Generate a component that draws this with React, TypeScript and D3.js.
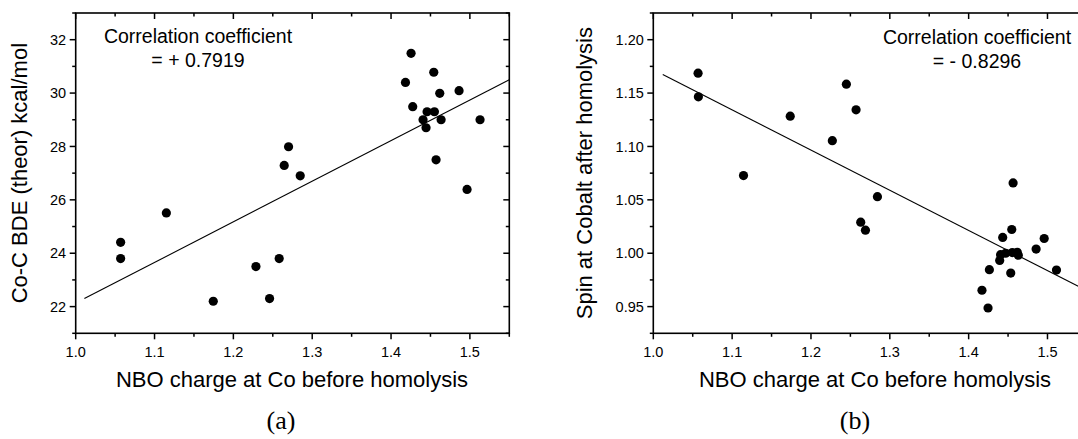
import React, { useEffect } from "react";
import * as d3 from "d3";

// ---------- data ----------
const nboA = [1.057, 1.057, 1.115, 1.1745, 1.2286, 1.2459, 1.2581, 1.2645, 1.27, 1.2848, 1.4183, 1.4254, 1.4275, 1.4406, 1.4444, 1.4457, 1.455, 1.4542, 1.4618, 1.4635, 1.4571, 1.4863, 1.4964, 1.5129];
const bdeA = [24.41, 23.8, 25.51, 22.2, 23.5, 22.3, 23.8, 27.29, 27.99, 26.9, 30.4, 31.49, 29.49, 29.0, 28.7, 29.3, 29.3, 30.78, 29.99, 29.0, 27.5, 30.09, 26.39, 29.0];

const nboB = [1.0568, 1.0572, 1.1144, 1.1737, 1.2271, 1.2449, 1.2572, 1.2631, 1.2691, 1.2843, 1.4169, 1.4246, 1.4263, 1.4394, 1.4432, 1.4405, 1.4469, 1.4534, 1.4547, 1.4564, 1.4554, 1.4617, 1.463, 1.4856, 1.4958, 1.5114];
const spinB = [1.1686, 1.1465, 1.0727, 1.1284, 1.1054, 1.1583, 1.1343, 1.0291, 1.0216, 1.053, 0.9653, 0.9487, 0.9846, 0.9933, 1.0148, 0.9986, 1.0, 0.9814, 1.0222, 1.0658, 1.0006, 1.0009, 0.9981, 1.0039, 1.0138, 0.9842];

const fitA = [{ x: 1.011, y: 22.3 }, { x: 1.55, y: 30.5 }];
const fitB = [{ x: 1.012, y: 1.1673 }, { x: 1.55, y: 0.9649 }];

const xDomain = [1.0, 1.55];
const yDomainA = [21, 33];
const yDomainB = [0.925, 1.225];

const xTicks = [1.0, 1.1, 1.2, 1.3, 1.4, 1.5];
const xMinor = [1.05, 1.15, 1.25, 1.35, 1.45, 1.55];
const yTicksA = [22, 24, 26, 28, 30, 32];
const yMinorA = [21, 23, 25, 27, 29, 31, 33];
const yTicksB = [0.95, 1.0, 1.05, 1.1, 1.15, 1.2];
const yMinorB = [0.925, 0.975, 1.025, 1.075, 1.125, 1.175, 1.225];

const xTitle = "NBO charge at Co before homolysis";
const yTitleA = "Co-C BDE (theor) kcal/mol";
const yTitleB = "Spin at Cobalt after homolysis";
const corrA = ["Correlation coefficient", "= + 0.7919"];
const corrB = ["Correlation coefficient", "= - 0.8296"];

const SANS = "'Liberation Sans', Arial, Helvetica, sans-serif";
const SERIF = "'Liberation Serif', 'Times New Roman', serif";

type PanelProps = {
  left: number; top: number; width: number; height: number;
  xs: number[]; ys: number[]; fit: { x: number; y: number }[];
  yDomain: number[]; yTicks: number[]; yMinor: number[]; yFmt: (v: number) => string;
  yTitle: string; yTitleX: number; corr: string[]; corrX: number; corrY: number;
  xTitleX: number; tag: string; tagX: number;
};

function Panel(p: PanelProps) {
  const x = d3.scaleLinear().domain(xDomain).range([p.left, p.left + p.width]);
  const y = d3.scaleLinear().domain(p.yDomain).range([p.top + p.height, p.top]);
  const bottom = p.top + p.height;
  const right = p.left + p.width;
  const line = d3.line<{ x: number; y: number }>().x((d) => x(d.x)).y((d) => y(d.y));
  const major = 6, minor = 3.5;
  return (
    <g>
      <rect x={p.left} y={p.top} width={p.width} height={p.height} fill="none" stroke="#000" strokeWidth={1.6} />
      {xTicks.map((t) => (
        <g key={"xt" + t}>
          <line x1={x(t)} x2={x(t)} y1={bottom} y2={bottom + major} stroke="#000" strokeWidth={1.5} />
          <line x1={x(t)} x2={x(t)} y1={p.top} y2={p.top + major} stroke="#000" strokeWidth={1.5} />
          <text x={x(t)} y={bottom + 24} textAnchor="middle" fontFamily={SANS} fontSize={14.5} fill="#000">
            {d3.format(".1f")(t)}
          </text>
        </g>
      ))}
      {xMinor.map((t) => (
        <g key={"xm" + t}>
          <line x1={x(t)} x2={x(t)} y1={bottom} y2={bottom + minor} stroke="#000" strokeWidth={1.5} />
          <line x1={x(t)} x2={x(t)} y1={p.top} y2={p.top + minor} stroke="#000" strokeWidth={1.5} />
        </g>
      ))}
      {p.yTicks.map((t) => (
        <g key={"yt" + t}>
          <line x1={p.left - major} x2={p.left} y1={y(t)} y2={y(t)} stroke="#000" strokeWidth={1.5} />
          <line x1={right - major} x2={right} y1={y(t)} y2={y(t)} stroke="#000" strokeWidth={1.5} />
          <text x={p.left - 9.5} y={y(t)} dy="0.36em" textAnchor="end" fontFamily={SANS} fontSize={14.5} fill="#000">
            {p.yFmt(t)}
          </text>
        </g>
      ))}
      {p.yMinor.map((t) => (
        <g key={"ym" + t}>
          <line x1={p.left - minor} x2={p.left} y1={y(t)} y2={y(t)} stroke="#000" strokeWidth={1.5} />
          <line x1={right - minor} x2={right} y1={y(t)} y2={y(t)} stroke="#000" strokeWidth={1.5} />
        </g>
      ))}
      <path d={line(p.fit) || ""} fill="none" stroke="#000" strokeWidth={1.1} />
      {p.xs.map((v, i) => (
        <circle key={"pt" + i} cx={x(v)} cy={y(p.ys[i])} r={4.6} fill="#000" />
      ))}
      <text x={p.corrX} y={p.corrY} textAnchor="middle" fontFamily={SANS} fontSize={19.5} fill="#000">{p.corr[0]}</text>
      <text x={p.corrX} y={p.corrY + 24} textAnchor="middle" fontFamily={SANS} fontSize={19.5} fill="#000">{p.corr[1]}</text>
      <text x={p.xTitleX} y={387} textAnchor="middle" fontFamily={SANS} fontSize={22} fill="#000">{xTitle}</text>
      <text transform={`translate(${p.yTitleX},${p.top + p.height / 2}) rotate(-90)`} textAnchor="middle" fontFamily={SANS} fontSize={22} fill="#000">
        {p.yTitle}
      </text>
      <text x={p.tagX} y={429} textAnchor="middle" fontFamily={SERIF} fontSize={26} fill="#000">{p.tag}</text>
    </g>
  );
}

export default function App() {
  useEffect(() => {
    document.body.style.margin = "0";
    document.body.style.overflow = "hidden";
  }, []);
  return (
    <svg width={1078} height={439} style={{ position: "absolute", left: 0, top: 0, background: "#fff" }}>
      <rect x={0} y={0} width={1078} height={439} fill="#fff" />
      <Panel left={75.7} top={13} width={433.6} height={320.3}
        xs={nboA} ys={bdeA} fit={fitA}
        yDomain={yDomainA} yTicks={yTicksA} yMinor={yMinorA} yFmt={d3.format("d")}
        yTitle={yTitleA} yTitleX={27} corr={corrA} corrX={198} corrY={43}
        xTitleX={292} tag="(a)" tagX={281} />
      <Panel left={653.3} top={13} width={433.6} height={320.3}
        xs={nboB} ys={spinB} fit={fitB}
        yDomain={yDomainB} yTicks={yTicksB} yMinor={yMinorB} yFmt={d3.format(".2f")}
        yTitle={yTitleB} yTitleX={592} corr={corrB} corrX={977} corrY={44}
        xTitleX={875} tag="(b)" tagX={855} />
    </svg>
  );
}
